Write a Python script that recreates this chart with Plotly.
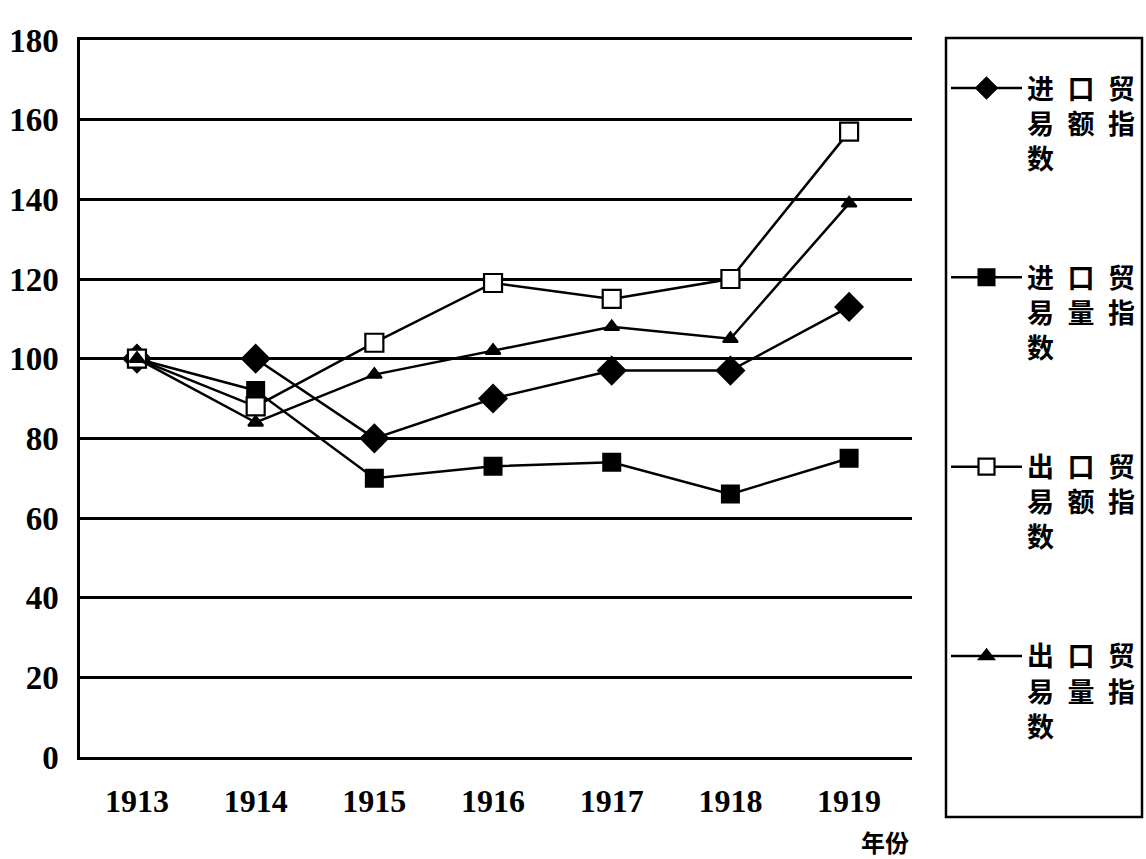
import plotly.graph_objects as go

years = [1913, 1914, 1915, 1916, 1917, 1918, 1919]
import_value_index = [100, 100, 80, 90, 97, 97, 113]
import_volume_index = [100, 92, 70, 73, 74, 66, 75]
export_value_index = [100, 88, 104, 119, 115, 120, 157]
export_volume_index = [100, 84, 96, 102, 108, 105, 139]

SP = "\u2002"
series_names = [
    f"进{SP}口{SP}贸<br>易{SP}额{SP}指<br>数",
    f"进{SP}口{SP}贸<br>易{SP}量{SP}指<br>数",
    f"出{SP}口{SP}贸<br>易{SP}额{SP}指<br>数",
    f"出{SP}口{SP}贸<br>易{SP}量{SP}指<br>数",
]
y_ticks = [0, 20, 40, 60, 80, 100, 120, 140, 160, 180]
x_title = "年份"

series_values = [import_value_index, import_volume_index, export_value_index, export_volume_index]
symbols = ["diamond", "square", "square-open", "triangle-up"]
sizes = [21, 17, 18, 13]

fig = go.Figure()
for i, (name, vals) in enumerate(zip(series_names, series_values)):
    sym = symbols[i]
    marker = dict(symbol=sym, size=sizes[i], color="black", line=dict(color="black", width=2))
    if sym == "square-open":
        marker = dict(symbol="square", size=sizes[i], color="white", line=dict(color="black", width=2.2))
    fig.add_trace(go.Scatter(
        x=years, y=vals, name=name, mode="lines+markers",
        line=dict(color="black", width=2.5),
        marker=marker,
        legendgroup=f"g{i}",
    ))

serif = "Liberation Serif, Times New Roman, serif"
cjk = "Noto Sans CJK SC, Noto Sans CJK JP, sans-serif"

W, H = 1146, 859
L, T = 80, 40
PW, PH = 832, 717

fig.update_layout(
    width=W, height=H,
    margin=dict(l=L, r=W - L - PW, t=T, b=H - T - PH, autoexpand=False),
    paper_bgcolor="white", plot_bgcolor="white",
    showlegend=True,
    legend=dict(
        x=(946 - L) / PW, xanchor="left", y=1 + 2 / PH, yanchor="top",
        bgcolor="rgba(0,0,0,0)", borderwidth=0,
        font=dict(family=cjk, size=27, color="black", weight=700),
        title=dict(text=" ", font=dict(size=20)),
        tracegroupgap=81, valign="top", itemwidth=71,
        traceorder="grouped", maxheight=820,
    ),
    shapes=[dict(
        type="rect", xref="paper", yref="paper",
        x0=(946 - L) / PW, x1=(1142 - L) / PW,
        y0=1 - (817 - T) / PH, y1=1 + 2 / PH,
        line=dict(color="black", width=2.5), fillcolor="rgba(0,0,0,0)",
        layer="above",
    )],
    xaxis=dict(
        range=[1912.52, 1919.53], tickmode="array", tickvals=years,
        ticktext=[str(y) for y in years],
        showgrid=False, zeroline=False,
        showline=True, mirror=True, linecolor="black", linewidth=2.5,
        ticks="", ticklabelstandoff=14, automargin=False,
        tickfont=dict(family=serif, size=32, color="black", weight=700),
    ),
    yaxis=dict(
        range=[0, 180], tickmode="array", tickvals=y_ticks,
        showgrid=True, gridcolor="black", gridwidth=2.5,
        zeroline=False, showline=True, linecolor="black", linewidth=2.5,
        ticks="", ticklabelstandoff=12, automargin=False,
        tickfont=dict(family=serif, size=33, color="black", weight=700),
    ),
    annotations=[dict(
        text=x_title, xref="x", yref="paper", x=1919.3, y=0,
        showarrow=False, font=dict(family=cjk, size=24, color="black", weight=700),
        xanchor="center", yanchor="middle", yshift=-84,
    )],
)

fig.write_html(
    "out.html",
    config={"displayModeBar": False},
    post_script="document.body.style.margin='0';document.body.style.overflow='hidden';",
)
